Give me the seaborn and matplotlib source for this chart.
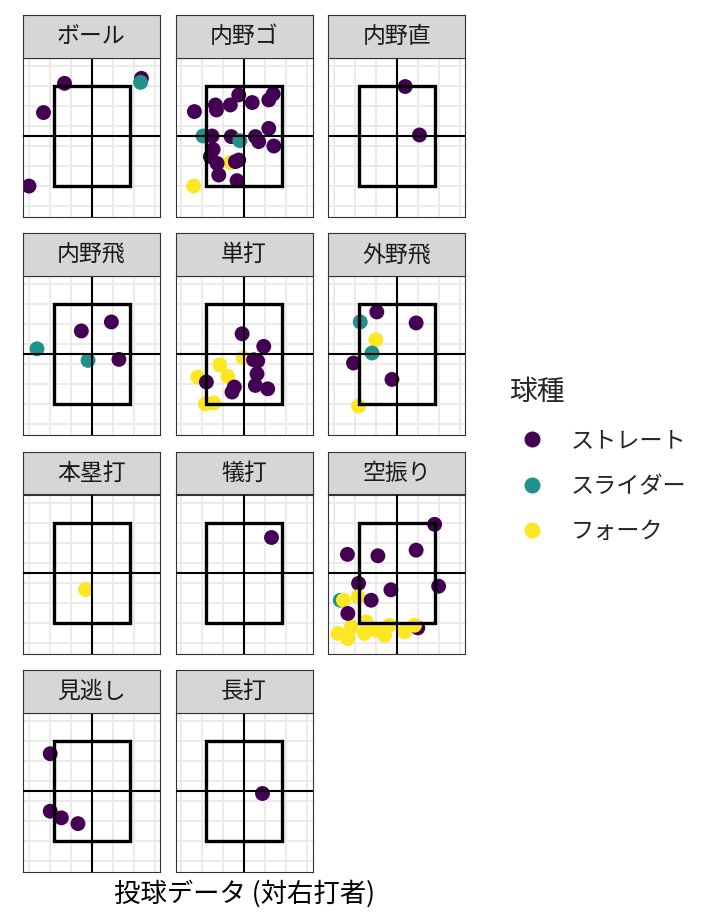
import matplotlib
matplotlib.use("Agg")
import matplotlib.pyplot as plt
import pandas as pd
import seaborn as sns
from matplotlib.lines import Line2D
from matplotlib.patches import Rectangle

# facet order (result of the at-bat)
FACETS = ["ボール", "内野ゴ", "内野直", "内野飛", "単打", "外野飛",
          "本塁打", "犠打", "空振り", "見逃し", "長打"]
COUNTS = [5, 25, 2, 5, 16, 8, 1, 1, 23, 4, 1]
PITCH_TYPES = ["ストレート", "スライダー", "フォーク"]
CODE = {"S": "ストレート", "L": "スライダー", "F": "フォーク"}

# pitch type codes, one string per facet (drawing order)
PITCH_CODES = [
    "SSSSL",
    "LF" + "S" * 21 + "LF",
    "SS",
    "LSSLS",
    "FFFFFF" + "S" * 10,
    "SLSFLSSF",
    "F",
    "S",
    "SSL" + "F" * 12 + "S" * 8,
    "SSSS",
    "S",
]

# horizontal location (0 = plate centre)
X = [
    -2.98, -2.29, -1.29, 2.37, 2.33,
    -1.97, -0.67, -2.38, -1.38, -1.33, -0.67, -0.27, 0.37, 1.16, 1.37, 1.16, 1.40,
    0.52, 0.68, -0.63, -1.54, -1.49, -1.62, -1.30, -1.22, -0.43, -0.27, -0.35, -0.22, -2.41,
    0.38, 1.06,
    -2.60, -0.49, 0.94, -0.17, 1.30,
    -0.06, -1.17, -0.79, -2.22, -1.86, -1.46,
    -0.11, 0.92, 0.44, 0.63, 0.60, 0.52, 1.11, -0.48, -0.59, -1.81,
    -0.97, -1.76, 0.90, -1.02, -1.20, -2.08, -0.25, -1.84,
    -0.33,
    1.27,
    0.98, -1.84, -2.71,
    -2.56, -1.87, -2.82, -2.35, -2.19, -1.48, -1.56, -1.00, -0.60, -0.37, 0.35, 0.82,
    1.78, -2.37, -0.92, 0.90, 1.97, -0.30, -1.24, -2.35,
    -1.97, -1.97, -1.44, -0.65,
    0.84,
]

# vertical location (0 = bottom of zone, 5 = top of zone)
Y = [
    0.00, 3.67, 5.13, 5.38, 5.18,
    2.50, 1.17, 3.72, 4.05, 3.80, 4.05, 4.55, 4.17, 4.30, 4.60, 2.88, 2.00,
    2.47, 2.22, 2.47, 2.50, 1.83, 1.47, 1.13, 0.55, 1.22, 1.30, 0.27, 2.27, 0.00,
    4.97, 2.55,
    2.78, 3.67, 4.12, 2.20, 2.25,
    2.33, 1.98, 1.40, 1.37, 0.03, 0.08,
    3.53, 2.90, 2.23, 2.17, 1.53, 0.95, 0.78, 0.87, 0.62, 1.12,
    4.62, 4.12, 4.07, 3.23, 2.57, 2.07, 1.25, -0.08,
    1.68,
    4.30,
    -0.25, 1.97, 1.13,
    1.13, 1.30, -0.53, -0.78, -0.20, 0.05, -0.53, -0.37, -0.62, -0.12, -0.45, -0.12,
    4.92, 3.42, 3.35, 3.63, 1.83, 1.65, 1.13, 0.47,
    4.37, 1.50, 1.17, 0.88,
    2.42,
]

ZONE_X = (-1.81, 1.81)
ZONE_Y = (0.0, 5.0)

panel = [name for name, n in zip(FACETS, COUNTS) for _ in range(n)]
pitch = [CODE[c] for c in "".join(PITCH_CODES)]
assert len(panel) == len(pitch) == len(X) == len(Y)
df = pd.DataFrame({"panel": panel, "pitch": pitch, "x": X, "y": Y})

sns.set_style("white")
plt.rcParams["font.family"] = ["Noto Sans CJK JP", "DejaVu Sans"]

palette = dict(zip(PITCH_TYPES, sns.color_palette("viridis", as_cmap=True)([0.0, 0.5, 1.0])))

W, H = 720, 921
fig = plt.figure(figsize=(W / 100, H / 100), dpi=100)


def box(left, top, w, h):
    return [left / W, 1 - (top + h) / H, w / W, h / H]


for i, name in enumerate(FACETS):
    r, c = divmod(i, 3)
    left = 22.7 + c * 152.8
    top = 57.7 + r * 218.4
    ax = fig.add_axes(box(left, top, 137, 159))
    ax.set_xticks(range(-3, 4))
    ax.set_yticks(range(-1, 7))
    ax.tick_params(length=0, labelbottom=False, labelleft=False)
    ax.grid(True, color="#EBEBEB", lw=1.4)
    ax.set_axisbelow(True)
    sns.scatterplot(data=df[df["panel"] == name], x="x", y="y", hue="pitch",
                    hue_order=PITCH_TYPES, palette=palette, s=115, linewidth=0,
                    alpha=1, legend=False, ax=ax, zorder=2)
    ax.axvline(0, color="black", lw=1.5, zorder=3)
    ax.axhline((ZONE_Y[0] + ZONE_Y[1]) / 2, color="black", lw=1.5, zorder=3)
    ax.add_patch(Rectangle((ZONE_X[0], ZONE_Y[0]), ZONE_X[1] - ZONE_X[0],
                           ZONE_Y[1] - ZONE_Y[0], fill=False, ec="black",
                           lw=2.4, zorder=4))
    ax.set_xlim(-3.28, 3.24)
    ax.set_ylim(-1.53, 6.41)
    ax.set_xlabel("")
    ax.set_ylabel("")
    for sp in ax.spines.values():
        sp.set_color("#333333")
        sp.set_linewidth(0.8)

    strip = fig.add_axes(box(left, top - 42.7, 137, 42.7))
    strip.set_facecolor("#D6D6D6")
    strip.set_xticks([])
    strip.set_yticks([])
    for sp in strip.spines.values():
        sp.set_color("#333333")
        sp.set_linewidth(0.8)
    strip.text(0.5, 0.5, name, ha="center", va="center", fontsize=16.5,
               color="#1A1A1A", transform=strip.transAxes)

fig.text(244 / W, 1 - 894 / H, "投球データ (対右打者)", ha="center", va="center",
         fontsize=19, color="black")

handles = [Line2D([], [], marker="o", ls="", color=palette[p], markersize=10.5)
           for p in PITCH_TYPES]
fig.legend(handles, PITCH_TYPES, title="球種", loc="upper left",
           bbox_to_anchor=(488 / W, 1 - 356 / H), frameon=False, fontsize=16.7,
           title_fontsize=20, labelspacing=0.97, handletextpad=0.68,
           alignment="left")

fig.savefig("out.png", dpi=100)
